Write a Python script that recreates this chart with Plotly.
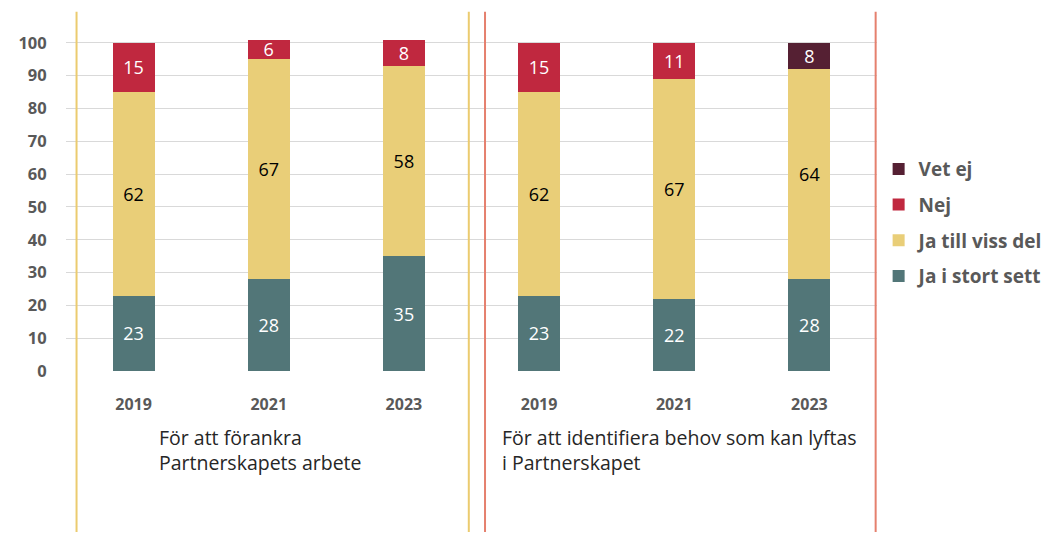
import plotly.graph_objects as go

years = ["2019", "2021", "2023", "2019", "2021", "2023"]
positions = [0, 1, 2, 3, 4, 5]
ja_stort = [23, 28, 35, 23, 22, 28]
ja_viss = [62, 67, 58, 62, 67, 64]
nej = [15, 6, 8, 15, 11, None]
vet_ej = [None, None, None, None, None, 8]
group_labels = ["För att förankra<br>Partnerskapets arbete",
                "För att identifiera behov som kan lyftas<br>i Partnerskapet"]

FONT = "'Open Sans', Lato, sans-serif"

series = [
    ("Ja i stort sett", ja_stort, "#527678", "white", 4),
    ("Ja till viss del", ja_viss, "#E9CE78", "black", 3),
    ("Nej", nej, "#C0283F", "white", 2),
    ("Vet ej", vet_ej, "#552033", "white", 1),
]

fig = go.Figure()
for name, vals, color, tcol, rank in series:
    fig.add_trace(go.Bar(
        x=positions, y=vals, name=name, legendgroup=name, legendrank=rank,
        marker_color=color, marker_line_width=0, width=0.31,
        text=[("" if v is None else str(v)) for v in vals],
        textposition="inside", insidetextanchor="middle",
        constraintext="none",
        textfont=dict(color=tcol, size=18, family=FONT),
        textangle=0, hoverinfo="skip",
    ))

# page body has an 8px margin; compensate so the plot area sits at x 65.5-877.5, y 10-371
fig.update_layout(
    barmode="stack",
    width=1057, height=534,
    margin=dict(l=57.5, r=187.5, t=2, b=171),
    plot_bgcolor="white", paper_bgcolor="white",
    font=dict(family=FONT),
    legend=dict(
        x=1.002, y=0.612, xanchor="left", yanchor="top",
        traceorder="grouped",
        font=dict(size=19, color="#595959", family=FONT, weight="bold"),
        itemwidth=30, tracegroupgap=8,
    ),
    xaxis=dict(
        range=[-0.5, 5.5], tickvals=positions, ticktext=years,
        showgrid=False, zeroline=False, showline=False, automargin=False,
        ticks="outside", ticklen=19, tickcolor="rgba(0,0,0,0)",
        tickfont=dict(size=16, color="#595959", family=FONT, weight="bold"),
    ),
    yaxis=dict(
        range=[0, 110], tickvals=list(range(0, 101, 10)),
        showgrid=True, gridcolor="#D9D9D9", gridwidth=1.3,
        zeroline=False, showline=False, automargin=False,
        ticks="outside", ticklen=15, tickcolor="rgba(0,0,0,0)",
        tickfont=dict(size=16.5, color="#595959", family=FONT, weight="bold"),
    ),
)

for xv, col in [(-0.422, "#EBCB6F"), (2.48, "#EBCB6F"), (2.6, "#E5806E"), (5.49, "#E5806E")]:
    fig.add_shape(type="line", xref="x", yref="paper", x0=xv, x1=xv,
                  y0=-0.446, y1=0.995, line=dict(color=col, width=2))

for xv, txt in [(0.17, group_labels[0]), (2.71, group_labels[1])]:
    fig.add_annotation(x=xv, y=-0.142, xref="x", yref="paper", text=txt,
                       showarrow=False, xanchor="left", yanchor="top", align="left",
                       font=dict(size=19.5, color="#262626", family=FONT))

fig.write_html("out.html")
